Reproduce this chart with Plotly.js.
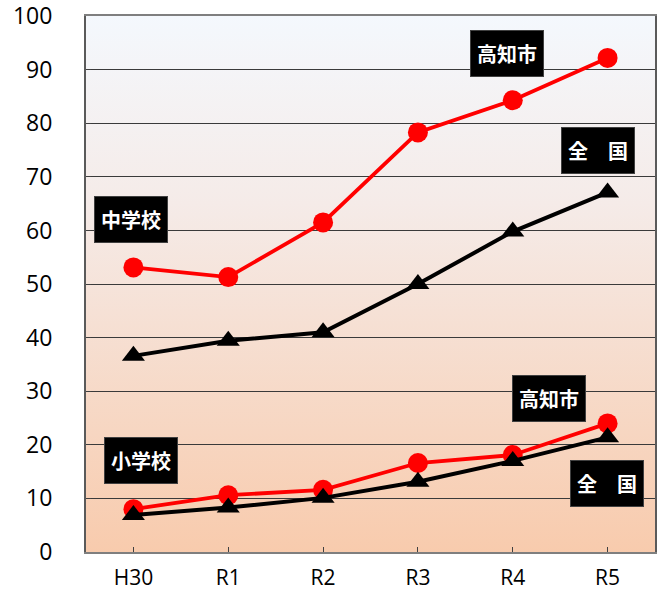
<!DOCTYPE html>
<html>
<head>
<meta charset="utf-8">
<script src="https://cdn.plot.ly/plotly-3.0.1.min.js"></script>
<style>
  html, body { margin: 0; padding: 0; background: #ffffff; }
  #chart { width: 657px; height: 592px; }
</style>
</head>
<body>
<div id="chart"></div>
<script>
// Fiscal years on the horizontal axis
const years = ['H30', 'R1', 'R2', 'R3', 'R4', 'R5'];

// Junior high school (中学校)
const juniorKochi = [53.1, 51.3, 61.5, 78.3, 84.3, 92.2];
const juniorNation = [36.6, 39.4, 41.0, 50.0, 59.8, 67.1];

// Elementary school (小学校)
const elemKochi = [8.0, 10.6, 11.6, 16.6, 18.1, 24.0];
const elemNation = [6.9, 8.3, 10.1, 13.1, 17.0, 21.4];

// Y axis ticks
const yTicks = [0, 10, 20, 30, 40, 50, 60, 70, 80, 90, 100];

// Label boxes: text with its anchor position (category index, value)
const labelTexts = ['高知市', '全　国', '中学校', '高知市', '小学校', '全　国'];
const labelX = [3.94, 4.90, -0.03, 4.38, 0.08, 4.99];
const labelY = [93.1, 75.0, 62.1, 28.7, 17.0, 12.7];

const RED = '#ff0000';
const BLACK = '#000000';

function kochiTrace(vals) {
  return {
    x: years, y: vals, type: 'scatter', mode: 'lines+markers',
    line: { color: RED, width: 3.8 },
    marker: { symbol: 'circle', size: 20, color: RED },
    hoverinfo: 'skip', showlegend: false
  };
}
function nationTrace(vals) {
  return {
    x: years, y: vals, type: 'scatter', mode: 'lines+markers',
    line: { color: BLACK, width: 4 },
    marker: { symbol: 'triangle-up', size: 20, color: BLACK },
    hoverinfo: 'skip', showlegend: false
  };
}

const data = [
  kochiTrace(juniorKochi),
  kochiTrace(elemKochi),
  nationTrace(juniorNation),
  nationTrace(elemNation)
];

// Vertical gradient behind the plotting area
const gradSvg =
  '<svg xmlns="http://www.w3.org/2000/svg" width="10" height="100" preserveAspectRatio="none">' +
  '<defs><linearGradient id="g" x1="0" y1="0" x2="0" y2="1">' +
  '<stop offset="0" stop-color="#f4f8fd"/>' +
  '<stop offset="0.35" stop-color="#f5ebe8"/>' +
  '<stop offset="1" stop-color="#f8cbad"/>' +
  '</linearGradient></defs>' +
  '<rect width="10" height="100" fill="url(#g)"/></svg>';
const gradUri = 'data:image/svg+xml;charset=utf-8,' + encodeURIComponent(gradSvg);

const annotations = labelTexts.map((t, i) => ({
  x: labelX[i], y: labelY[i], xref: 'x', yref: 'y',
  text: '<b>' + t + '</b>', showarrow: false,
  font: { family: '"Noto Sans CJK JP", sans-serif', size: 20, color: '#ffffff' },
  bgcolor: '#000000', bordercolor: '#404040', borderwidth: 1,
  borderpad: 0, width: 72, height: 45,
  xanchor: 'center', yanchor: 'middle'
}));

const layout = {
  width: 657, height: 592,
  margin: { l: 86, r: 2, t: 16, b: 40 },
  paper_bgcolor: '#ffffff',
  plot_bgcolor: 'rgba(0,0,0,0)',
  font: { family: '"Open Sans", sans-serif', color: '#000000' },
  images: [{
    source: gradUri, xref: 'paper', yref: 'paper',
    x: 0, y: 1, sizex: 1, sizey: 1,
    xanchor: 'left', yanchor: 'top', sizing: 'stretch', layer: 'below'
  }],
  xaxis: {
    type: 'category', range: [-0.5, 5.5],
    showgrid: false, zeroline: false,
    showline: true, linecolor: '#7f7f7f', linewidth: 2, mirror: true,
    ticks: 'inside', ticklen: 5, tickcolor: '#404040', tickwidth: 1,
    tickfont: { family: '"Open Sans", sans-serif', size: 21, color: '#000000' },
    ticklabelstandoff: 6,
    ticklabeloverflow: 'allow', automargin: false
  },
  yaxis: {
    range: [0, 100.02], tickvals: yTicks, ticktext: yTicks.map(String),
    showgrid: true, gridcolor: '#3a3a3a', gridwidth: 1, zeroline: false,
    showline: true, linecolor: '#5a5a5a', linewidth: 2, mirror: true,
    ticks: 'inside', ticklen: 5, tickcolor: '#404040', tickwidth: 1,
    tickfont: { family: '"Open Sans", sans-serif', size: 23, color: '#000000' },
    ticklabelstandoff: 27,
    ticklabeloverflow: 'allow', automargin: false
  },
  annotations: annotations
};

Plotly.newPlot('chart', data, layout, { displayModeBar: false, staticPlot: true });
</script>
</body>
</html>
